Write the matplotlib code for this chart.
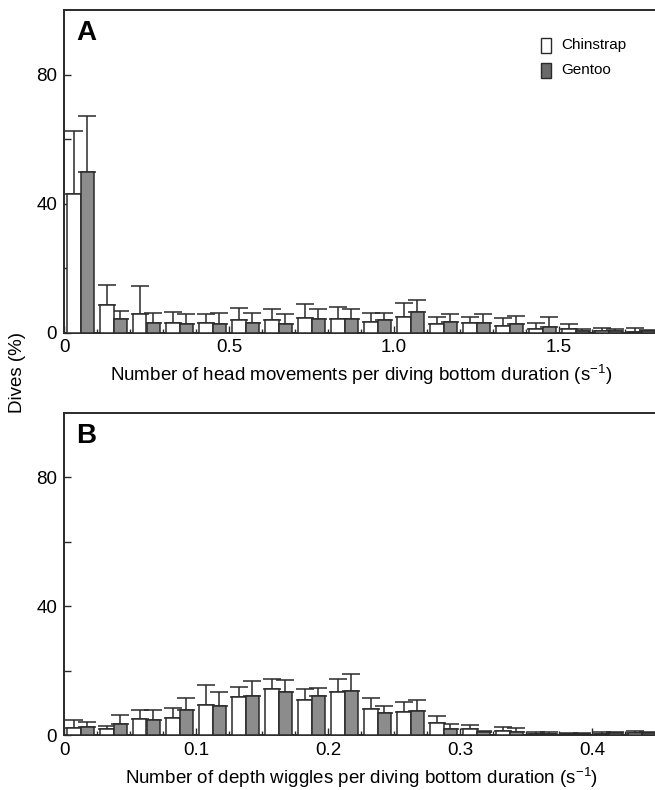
import numpy as np
import matplotlib
matplotlib.use('Agg')
import matplotlib.pyplot as plt
from matplotlib.patches import Rectangle
from matplotlib.ticker import FixedLocator

plt.rcParams['font.family'] = ['Liberation Sans', 'DejaVu Sans']
plt.rcParams['mathtext.default'] = 'regular'

# Panel A: head movements per bottom duration, bins of 0.1 s^-1
a_bin_width = 0.1
a_chin = [42.8, 8.6, 5.8, 3.1, 3.1, 3.8, 3.8, 4.6, 4.2, 3.4, 4.9, 2.5, 2.9, 2.1, 1.0, 1.0, 0.6, 0.2]
a_chin_err = [19.7, 6.0, 8.5, 3.4, 2.6, 3.9, 3.4, 4.3, 3.8, 2.8, 4.2, 2.4, 2.0, 2.4, 2.1, 1.5, 0.9, 1.3]
a_gent = [49.8, 4.2, 3.1, 2.6, 2.6, 3.1, 2.6, 4.2, 4.2, 3.9, 6.5, 3.4, 2.9, 2.5, 1.8, 0.6, 0.4, 0.6]
a_gent_err = [17.3, 2.6, 3.1, 3.2, 3.6, 3.1, 3.2, 3.0, 3.0, 2.3, 3.5, 2.3, 2.8, 2.7, 3.1, 0.5, 0.7, 0.2]
a_ticks = [0, 0.5, 1.0, 1.5]
a_ticklabels = ['0', '0.5', '1.0', '1.5']

# Panel B: depth wiggles per bottom duration, bins of 0.025 s^-1
b_bin_width = 0.025
b_chin = [2.3, 1.8, 5.1, 5.5, 9.4, 11.8, 14.5, 11.0, 13.4, 8.1, 7.2, 3.8, 1.8, 1.2, 0.5, 0.3, 0.5, 0.8]
b_chin_err = [2.4, 1.2, 2.9, 3.1, 6.2, 3.3, 3.1, 3.5, 4.2, 3.6, 3.2, 2.3, 1.5, 1.4, 0.5, 0.3, 0.4, 0.4]
b_gent = [2.6, 3.5, 4.7, 7.9, 9.1, 12.1, 13.4, 12.1, 13.8, 6.8, 7.5, 1.8, 0.9, 1.0, 0.5, 0.3, 0.6, 0.7]
b_gent_err = [1.4, 2.9, 3.0, 3.8, 4.2, 4.6, 3.8, 2.7, 5.2, 2.3, 3.5, 1.8, 0.3, 1.3, 0.5, 0.3, 0.4, 0.3]
b_ticks = [0, 0.1, 0.2, 0.3, 0.4]
b_ticklabels = ['0', '0.1', '0.2', '0.3', '0.4']

y_ticks = [0, 40, 80]
y_minor = [20, 60]

species = ['Chinstrap', 'Gentoo']
bar_colors = ['white', '#8c8c8c']
edge = '#2a2a2a'

W, H = 655, 790
fig = plt.figure(figsize=(W / 100, H / 100), dpi=100)


def px_axes(left, top, right, bottom):
    return fig.add_axes([left / W, 1 - bottom / H, (right - left) / W, (bottom - top) / H])


def draw_panel(ax, chin, chin_err, gent, gent_err, bw, ticks, ticklabels, xlabel, letter):
    n = len(chin)
    starts = np.arange(n) * bw
    w = 0.42 * bw
    for vals, errs, off, col in [(chin, chin_err, 0.08, bar_colors[0]),
                                 (gent, gent_err, 0.50, bar_colors[1])]:
        x = starts + off * bw
        ax.bar(x, vals, width=w, align='edge', color=col, edgecolor=edge,
               linewidth=1.1, zorder=3)
        ax.errorbar(x + w / 2, vals, yerr=[np.zeros(n), errs], fmt='none',
                    ecolor=edge, elinewidth=1.1, capsize=6.5, capthick=1.1, zorder=2)
    ax.set_xlim(0, n * bw)
    ax.set_ylim(0, 100)
    ax.set_xticks(ticks)
    ax.set_xticklabels(ticklabels)
    ax.xaxis.set_minor_locator(FixedLocator(list(starts[1:])))
    ax.set_yticks(y_ticks)
    ax.yaxis.set_minor_locator(FixedLocator(y_minor))
    ax.tick_params(axis='both', which='both', direction='in', colors=edge,
                   labelcolor='black', labelsize=13.5, width=1.0)
    ax.tick_params(axis='both', which='major', length=5, pad=5)
    ax.tick_params(axis='both', which='minor', length=3)
    ax.tick_params(axis='y', which='both', length=5)
    for s in ax.spines.values():
        s.set_linewidth(1.4)
        s.set_color(edge)
    ax.set_xlabel(xlabel, fontsize=13.5, labelpad=5)
    ax.text(0.02, 0.97, letter, transform=ax.transAxes, fontsize=20,
            fontweight='bold', va='top', ha='left')


ax_a = px_axes(64, 10, 658, 332.5)
draw_panel(ax_a, a_chin, a_chin_err, a_gent, a_gent_err, a_bin_width, a_ticks,
           a_ticklabels, 'Number of head movements per diving bottom duration (s$^{-1}$)', 'A')

ax_b = px_axes(64, 413, 658, 735.3)
draw_panel(ax_b, b_chin, b_chin_err, b_gent, b_gent_err, b_bin_width, b_ticks,
           b_ticklabels, 'Number of depth wiggles per diving bottom duration (s$^{-1}$)', 'B')

# legend swatches in panel A
swatch_colors = ['white', '#6a6a6a']
for i, (name, col) in enumerate(zip(species, swatch_colors)):
    top = 38 + i * 25
    fig.add_artist(Rectangle((541 / W, 1 - (top + 15) / H), 10 / W, 15 / H,
                             transform=fig.transFigure, facecolor=col,
                             edgecolor=edge, linewidth=1.0))
    fig.text(561 / W, 1 - (top + 7.5) / H, name, fontsize=11, va='center', ha='left')

fig.text(18 / W, 1 - 372 / H, 'Dives (%)', rotation=90, fontsize=13.5,
         va='center', ha='center')

fig.savefig('out.png', dpi=100)
